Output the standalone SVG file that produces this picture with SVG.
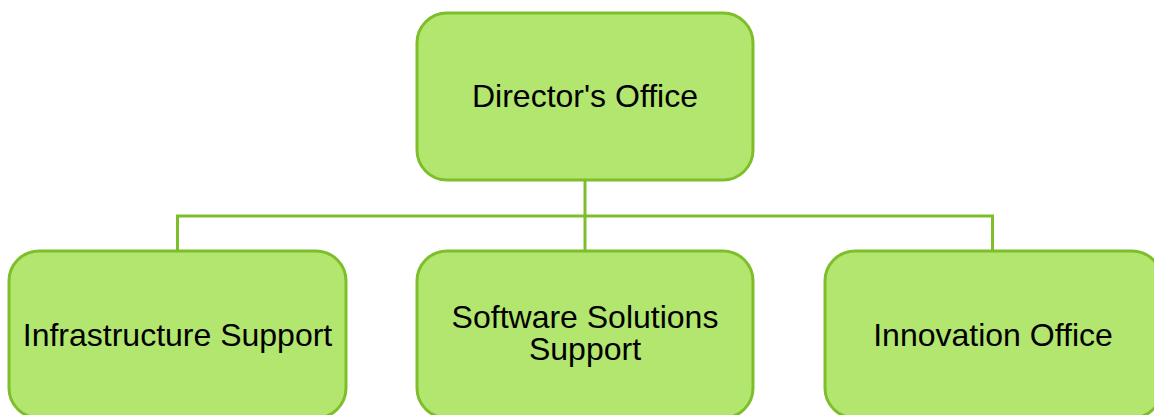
<svg xmlns="http://www.w3.org/2000/svg" width="1154" height="415" viewBox="0 0 1154 415">
<style>
.box{fill:#b2e66f;stroke:#7dbe2a;stroke-width:3}
.lbl{font-family:"Liberation Sans",Arial,sans-serif;font-size:32px;fill:#000;text-anchor:middle}
.conn{fill:none;stroke:#7dbe2a;stroke-width:3}
</style>
<rect width="1154" height="415" fill="#fff"/>
<g id="connectors">
<path class="conn" d="M585 180 V216 M177.5 251 V216 H992.5 V251 M585 216 V251"/>
</g>
<g id="director">
<rect class="box" x="417" y="13" width="336" height="167" rx="30"/>
<text class="lbl" x="585" y="107">Director's Office</text>
</g>
<g id="infra">
<rect class="box" x="9" y="251" width="337" height="167" rx="30"/>
<text class="lbl" x="177.5" y="346">Infrastructure Support</text>
</g>
<g id="software">
<rect class="box" x="417" y="251" width="336" height="167" rx="30"/>
<text class="lbl" x="585" y="328"><tspan x="585" y="328">Software Solutions</tspan><tspan x="585" y="360">Support</tspan></text>
</g>
<g id="innovation">
<rect class="box" x="825" y="251" width="337" height="167" rx="30"/>
<text class="lbl" x="993" y="346">Innovation Office</text>
</g>
</svg>
